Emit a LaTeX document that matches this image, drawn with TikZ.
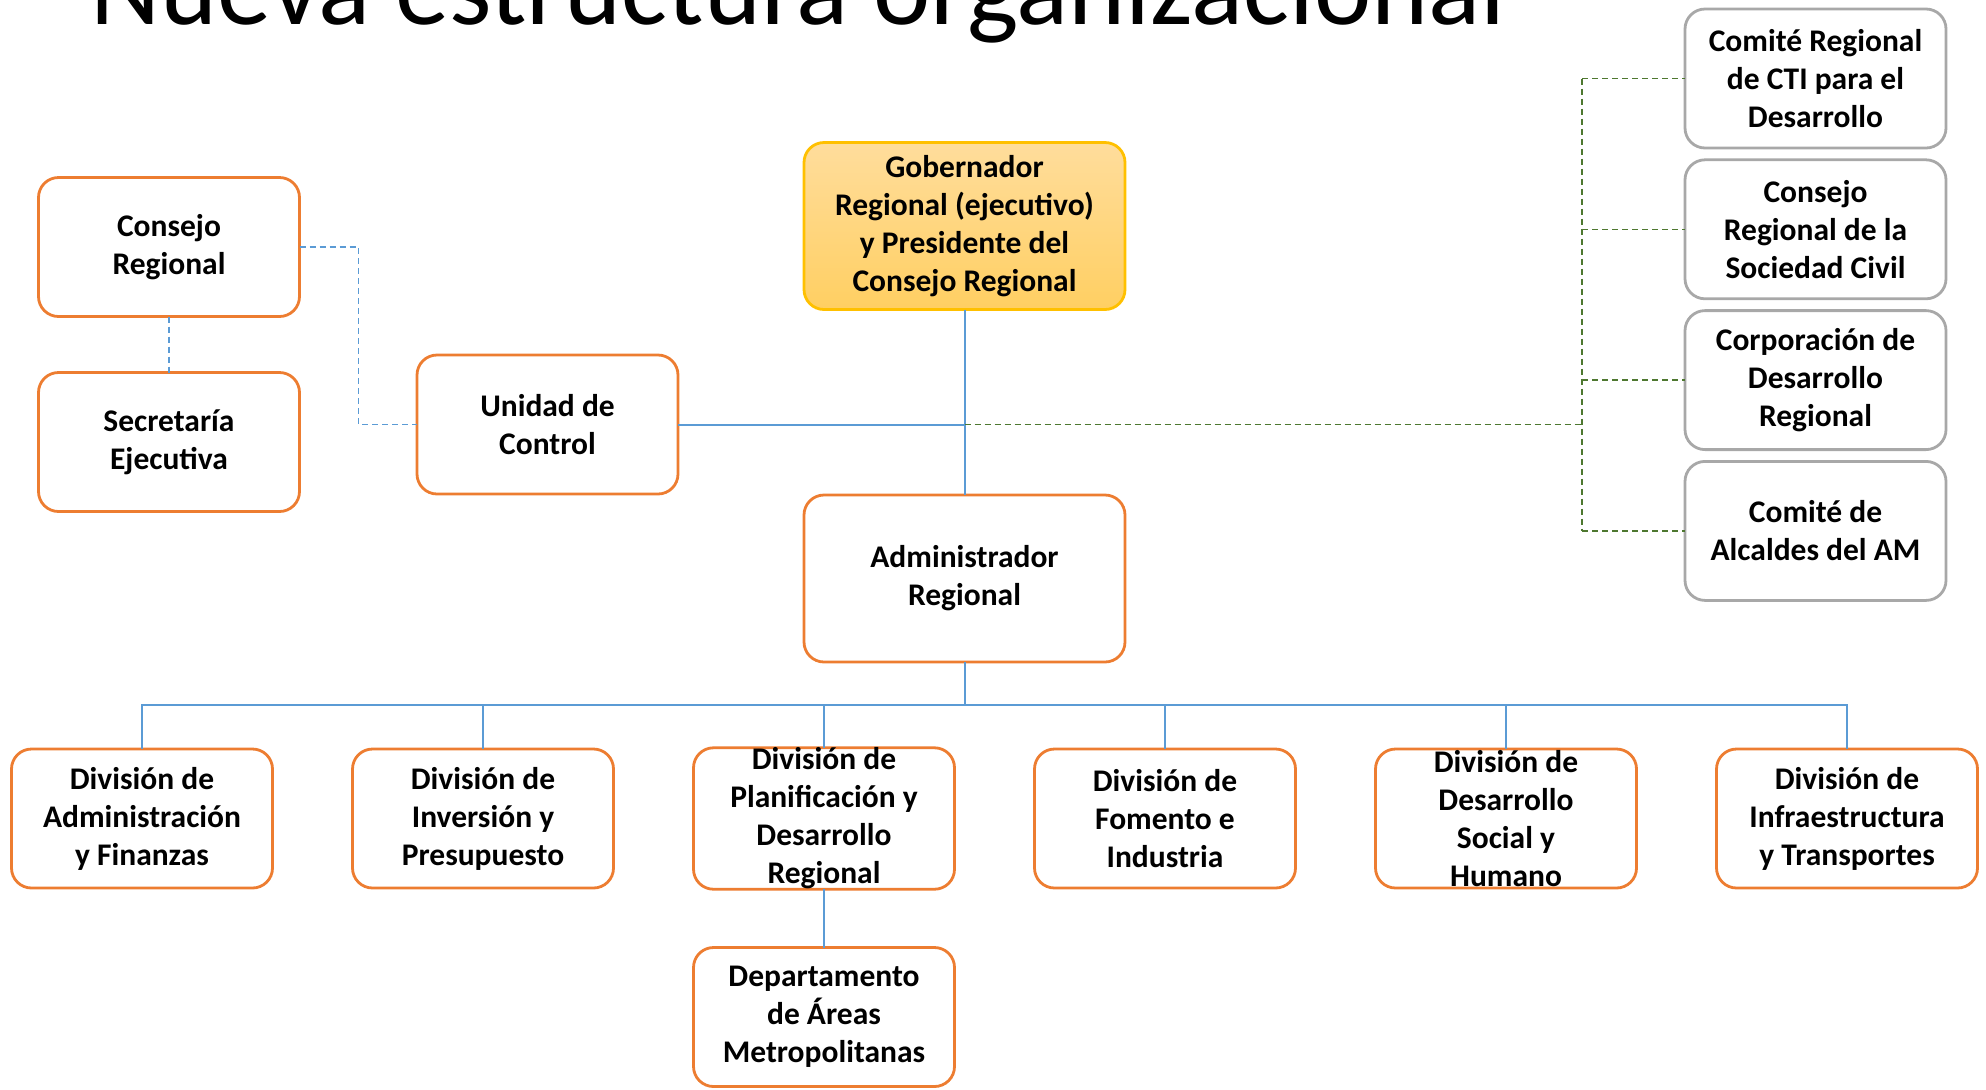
\documentclass[tikz,border=0pt]{standalone}
\usepackage{fontspec}
\setmainfont{Carlito}
\usepackage{xcolor}
\usepackage{tikz}
\usetikzlibrary{positioning}

\definecolor{boxorange}{RGB}{237,125,49}
\definecolor{boxgray}{RGB}{168,168,168}
\definecolor{linkblue}{RGB}{91,155,213}
\definecolor{linkgreen}{RGB}{78,120,48}
\definecolor{gobtop}{RGB}{255,221,156}
\definecolor{gobbottom}{RGB}{255,207,98}
\definecolor{gobborder}{RGB}{255,192,0}

\newcommand{\orgfont}{\bfseries\fontsize{15.75}{19}\selectfont}

\begin{document}
\begin{tikzpicture}[x=0.5pt,y=-0.5pt,
    orgnode/.style={rectangle, rounded corners=10pt, draw=boxorange, line width=1.4pt, fill=white, minimum width=130.5pt, minimum height=69.5pt, inner sep=0pt, outer sep=0pt, align=center, font=\orgfont},
    grayorgnode/.style={orgnode, draw=boxgray},
    govnode/.style={orgnode, minimum width=160.5pt, minimum height=83.5pt},
    bluelink/.style={draw=linkblue, line width=0.8pt},
    bluedashlink/.style={draw=linkblue, line width=0.7pt, dash pattern=on 3pt off 2pt},
    greendashlink/.style={draw=linkgreen, line width=0.8pt, dash pattern=on 3pt off 2pt}]
            \useasboundingbox (0,0) rectangle (1986,1089);
            %Title
            \node[anchor=base west, inner sep=0pt, font=\fontsize{54.3}{60}\selectfont](title) at (90,24){Nueva estructura organizacional};

            %Nodes
            \node[govnode, top color=gobtop, bottom color=gobbottom, draw=gobborder](gobernador) at (964.5,226){Gobernador\\Regional (ejecutivo)\\y Presidente del\\Consejo Regional};
            \node[govnode](administrador) at (964.5,578.5){Administrador\\Regional};
            \node[orgnode](consejo) at (169,247){Consejo\\Regional};
            \node[orgnode](secretaria)[below=28pt of consejo]{Secretaría\\Ejecutiva};
            \node[orgnode](unidad) at (547.5,424.5){Unidad de\\Control};

            \node[grayorgnode](comite_cti) at (1815.5,78.5){Comité Regional\\de CTI para el\\Desarrollo};
            \node[grayorgnode](consejo_civil)[below=5.9pt of comite_cti]{Consejo\\Regional de la\\Sociedad Civil};
            \node[grayorgnode](corporacion)[below=5.9pt of consejo_civil]{Corporación de\\Desarrollo\\Regional};
            \node[grayorgnode](alcaldes)[below=5.9pt of corporacion]{Comité de\\Alcaldes del AM};

            \node[orgnode](div_finanzas) at (142,818.5){División de\\Administración\\y Finanzas};
            \node[orgnode](div_inversion)[right=40pt of div_finanzas]{División de\\Inversión y\\Presupuesto};
            \node[orgnode](div_planificacion)[right=40pt of div_inversion]{División de\\Planificación y\\Desarrollo\\Regional};
            \node[orgnode](div_fomento)[right=40pt of div_planificacion]{División de\\Fomento e\\Industria};
            \node[orgnode](div_social)[right=40pt of div_fomento]{División de\\Desarrollo\\Social y\\Humano};
            \node[orgnode](div_infraestructura)[right=40pt of div_social]{División de\\Infraestructura\\y Transportes};
            \node[orgnode](departamento) at (div_planificacion |- 0,1017){Departamento\\de Áreas\\Metropolitanas};

            %Junctions
            \coordinate (hub) at (gobernador.south |- unidad.east);
            \coordinate (rail) at ([xshift=-51.5pt]comite_cti.west |- hub);
            \coordinate (bus) at ([yshift=-21.5pt]administrador.south);

            %Lines
            \draw[bluelink, line width=1pt] (gobernador.south) -- (administrador.north);
            \draw[bluelink, line width=1pt] (unidad.east) -- (hub);
            \draw[greendashlink] (hub) -- (rail);
            \draw[greendashlink] (rail |- comite_cti.west) -- (rail |- alcaldes.west);
            \foreach \target in {comite_cti, consejo_civil, corporacion, alcaldes}
                \draw[greendashlink] (rail |- \target.west) -- (\target.west);
            \draw[bluedashlink] (consejo.east) -- ++(29.5pt,0) |- (unidad.west);
            \draw[bluedashlink] (consejo.south) -- (secretaria.north);
            \draw[bluelink, line width=1pt] (administrador.south) -- (bus);
            \foreach \target in {div_finanzas, div_inversion, div_planificacion, div_fomento, div_social, div_infraestructura}
                \draw[bluelink] (bus) -| (\target.north);
            \draw[bluelink] (div_planificacion.south) -- (departamento.north);
        \end{tikzpicture}
\end{document}
